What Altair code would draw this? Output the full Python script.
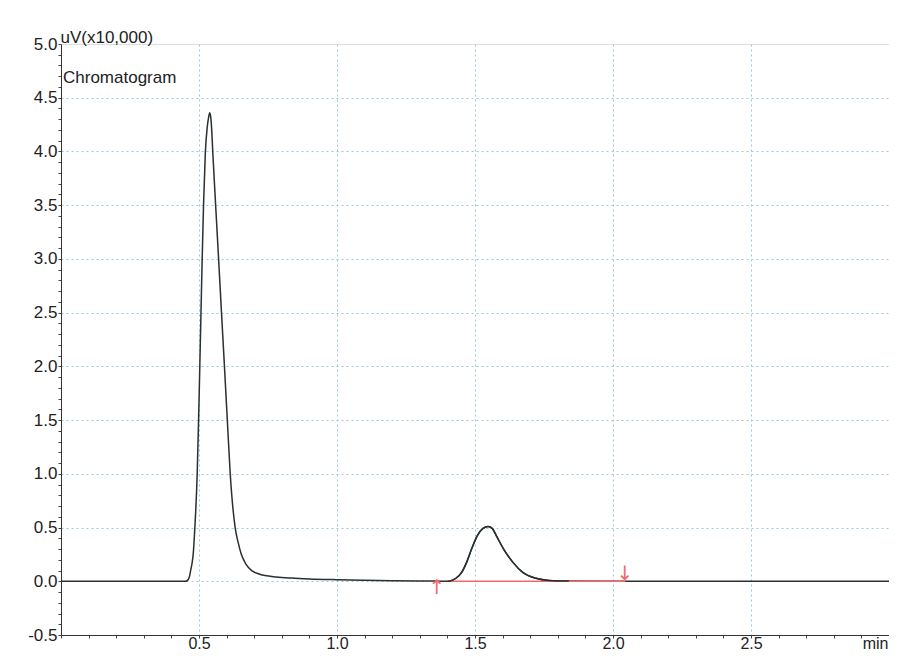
import altair as alt
import pandas as pd

# Chromatogram trace (time in min, signal in uV x10,000)
time_min = [0.00, 0.20, 0.40, 0.450, 0.457, 0.465, 0.4696, 0.475, 0.479, 0.485,
            0.4934, 0.4985, 0.5030, 0.5072, 0.5115, 0.5163, 0.5230, 0.5300, 0.5350,
            0.539, 0.543, 0.5465, 0.5500, 0.5605, 0.5710, 0.5815, 0.5920, 0.6025,
            0.6133, 0.631, 0.642, 0.653, 0.670, 0.691, 0.715, 0.739, 0.780, 0.834,
            0.90, 1.00, 1.10, 1.20, 1.30, 1.36, 1.40, 1.41, 1.431, 1.4517, 1.4696,
            1.4876, 1.508, 1.528, 1.5475, 1.563, 1.5775, 1.6037, 1.6375, 1.673,
            1.721, 1.768, 1.84, 2.00, 2.50, 3.00]
signal = [0.000, 0.000, 0.000, 0.000, 0.005, 0.040, 0.099, 0.170, 0.253, 0.500,
          0.994, 1.503, 2.010, 2.500, 3.000, 3.490, 3.990, 4.230, 4.320,
          4.360, 4.310, 4.180, 3.990, 3.490, 3.000, 2.500, 2.010, 1.503,
          0.994, 0.500, 0.360, 0.253, 0.160, 0.099, 0.070, 0.053, 0.040, 0.030,
          0.022, 0.015, 0.010, 0.006, 0.003, 0.002, 0.000, 0.003, 0.028, 0.083, 0.176,
          0.300, 0.423, 0.490, 0.509, 0.490, 0.423, 0.300, 0.176, 0.083,
          0.028, 0.008, 0.002, 0.000, 0.000, 0.000]

# Integration baseline of the second peak
baseline_t = [1.40, 2.045]
baseline_v = [0.0, 0.0]

# Integration start / end markers
marker_t = [1.362, 2.043]
marker_v = [-0.06, 0.065]
marker_sym = ["\u2191", "\u2193"]

x_ticks = [round(i * 0.1, 1) for i in range(0, 31)]
y_ticks = [round(-0.5 + i * 0.1, 1) for i in range(0, 56)]

trace = pd.DataFrame({"t": time_min, "v": signal})
peak2 = trace[(trace.t >= 1.40) & (trace.t <= 1.84)]
base = pd.DataFrame({"t": baseline_t, "v": baseline_v})
marks = pd.DataFrame({"t": marker_t, "v": marker_v, "s": marker_sym})

FONT = "Liberation Sans"
major_test = "abs(datum.value*2 - round(datum.value*2)) < 0.001"
fmt = "(datum.value < 0 ? '-' : '') + format(abs(datum.value), '.1f')"

x_scale = alt.Scale(domain=[0, 3.0], nice=False, zero=False)
y_scale = alt.Scale(domain=[-0.5, 5.0], nice=False, zero=False)

x_axis = alt.Axis(
    values=x_ticks,
    tickCount=500,
    labelExpr="(" + major_test + ") && datum.value > 0.01 && datum.value < 2.99 ? " + fmt + " : ''",
    grid=True,
    gridColor="#9cc6de",
    gridDash=[2, 3],
    gridWidth=1,
    gridOpacity={"condition": {"test": major_test + " && datum.value > 0.01 && datum.value < 2.99", "value": 1}, "value": 0},
    tickSize=3,
    tickColor="#444",
    domainColor="#333",
    labelFont=FONT,
    labelFontSize=16,
    labelColor="#222",
    labelPadding=-3,
    labelFlush=False,
    labelOverlap=False,
    title="min",
    titleFont=FONT,
    titleFontSize=16,
    titleFontWeight="normal",
    titleColor="#222",
    titleAnchor="end",
    titleAlign="right",
    titleBaseline="top",
    titleX=827,
    titleY=0,
)

y_axis = alt.Axis(
    values=y_ticks,
    tickCount=500,
    labelExpr="(" + major_test + ") ? " + fmt + " : ''",
    grid=True,
    gridColor="#9cc6de",
    gridDash=[2, 3],
    gridWidth=1,
    gridOpacity={"condition": {"test": major_test + " && datum.value > -0.49 && datum.value < 4.99", "value": 1}, "value": 0},
    tickSize=3,
    tickColor="#444",
    domainColor="#333",
    labelFont=FONT,
    labelFontSize=17,
    labelColor="#222",
    labelPadding=1,
    labelFlush=False,
    labelOverlap=False,
    title="uV(x10,000)",
    titleFont=FONT,
    titleFontSize=17,
    titleFontWeight="normal",
    titleColor="#222",
    titleAngle=0,
    titleAlign="left",
    titleBaseline="alphabetic",
    titleX=-1,
    titleY=-2,
)

line = alt.Chart(trace).mark_line(color="#2a2f30", strokeWidth=1.5, interpolate="monotone").encode(
    x=alt.X("t:Q", scale=x_scale, axis=x_axis),
    y=alt.Y("v:Q", scale=y_scale, axis=y_axis),
)

red_base = alt.Chart(base).mark_line(color="#f06a6a", strokeWidth=1.6).encode(
    x=alt.X("t:Q", scale=x_scale),
    y=alt.Y("v:Q", scale=y_scale),
)

peak_over = alt.Chart(peak2).mark_line(color="#2a2f30", strokeWidth=1.5, interpolate="monotone").encode(
    x=alt.X("t:Q", scale=x_scale),
    y=alt.Y("v:Q", scale=y_scale),
)

arrows = alt.Chart(marks).mark_text(color="#f06a6a", font="DejaVu Sans", fontSize=20, baseline="middle", align="center").encode(
    x=alt.X("t:Q", scale=x_scale),
    y=alt.Y("v:Q", scale=y_scale),
    text="s:N",
)

label = alt.Chart(pd.DataFrame({"txt": ["Chromatogram"]})).mark_text(
    font=FONT, fontSize=17, color="#222", align="left", baseline="alphabetic"
).encode(
    x=alt.value(2), y=alt.value(39), text="txt:N"
)

chart = alt.layer(line, red_base, peak_over, arrows, label).properties(
    width=828,
    height=591,
    autosize="none",
    padding={"left": 53, "top": 36, "right": 0, "bottom": 16},
).configure_view(stroke="#333", strokeWidth=1).configure(background="white")

chart.save("out.html", embed_options={"renderer": "svg", "actions": False})
